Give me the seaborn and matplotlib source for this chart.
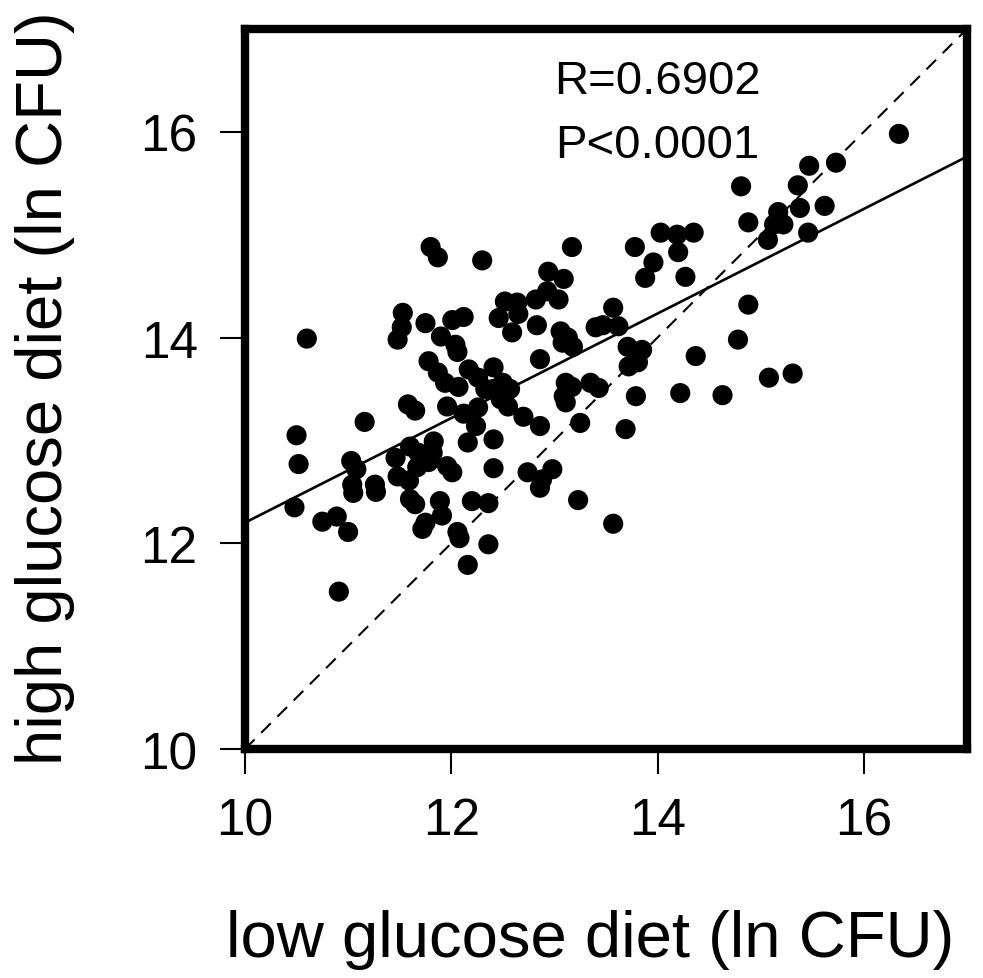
import numpy as np
import pandas as pd
import matplotlib
matplotlib.use("Agg")
import matplotlib.pyplot as plt
import seaborn as sns

low_glucose = [10.48, 10.50, 10.52, 10.60, 10.75, 10.89, 10.91, 11.00, 11.03, 11.08,
               11.04, 11.05, 11.16, 11.26, 11.27, 11.46, 11.48, 11.48, 11.52, 11.53,
               11.58, 11.65, 11.59, 11.60, 11.68, 11.67, 11.60, 11.65, 11.72, 11.75,
               11.75, 11.78, 11.80, 11.87, 11.83, 11.82, 11.78, 11.87, 11.90, 11.89,
               11.91, 11.94, 11.96, 11.96, 12.01, 12.01, 12.12, 12.04, 12.06, 12.07,
               12.06, 12.08, 12.12, 12.16, 12.17, 12.20, 12.16, 12.24, 12.26, 12.26,
               12.30, 12.33, 12.41, 12.41, 12.36, 12.36, 12.41, 12.41, 12.46, 12.48,
               12.50, 12.52, 12.55, 12.57, 12.59, 12.64, 12.65, 12.70, 12.74, 12.82,
               12.83, 12.86, 12.86, 12.86, 12.88, 12.93, 12.94, 12.98, 13.04, 13.06,
               13.08, 13.13, 13.18, 13.09, 13.09, 13.11, 13.11, 13.17, 13.17, 13.23,
               13.25, 13.35, 13.40, 13.43, 13.47, 13.57, 13.57, 13.62, 13.69, 13.71,
               13.72, 13.81, 13.85, 13.78, 13.79, 13.88, 13.96, 14.03, 14.19, 14.20,
               14.27, 14.22, 14.35, 14.37, 14.63, 14.78, 14.81, 14.88, 14.88, 15.07,
               15.08, 15.13, 15.17, 15.22, 15.31, 15.36, 15.38, 15.46, 15.47, 15.62,
               15.73, 16.34]
high_glucose = [12.35, 13.05, 12.77, 13.99, 12.21, 12.26, 11.53, 12.11, 12.80, 12.72,
                12.57, 12.49, 13.18, 12.57, 12.50, 12.83, 12.65, 13.98, 14.10, 14.24,
                13.35, 13.29, 12.61, 12.94, 12.88, 12.74, 12.43, 12.38, 12.14, 12.20,
                14.14, 13.77, 14.88, 14.78, 12.99, 12.88, 12.79, 13.66, 14.01, 12.41,
                12.27, 13.56, 13.33, 12.75, 12.69, 14.17, 14.20, 13.93, 13.86, 13.52,
                12.11, 12.05, 13.26, 12.98, 13.69, 12.41, 11.79, 13.14, 13.61, 13.32,
                14.75, 13.50, 13.71, 13.50, 11.99, 12.39, 13.01, 12.73, 14.19, 13.40,
                13.56, 14.35, 13.33, 13.50, 14.05, 14.34, 14.23, 13.23, 12.69, 14.37,
                14.12, 13.79, 13.14, 12.54, 12.62, 14.45, 14.64, 12.72, 14.37, 14.06,
                13.95, 14.00, 13.91, 14.57, 13.43, 13.37, 13.56, 14.88, 13.52, 12.42,
                13.17, 13.56, 14.10, 13.51, 14.12, 14.29, 12.19, 14.11, 13.11, 13.91,
                13.72, 13.76, 13.88, 14.88, 13.43, 14.58, 14.73, 15.02, 15.00, 14.83,
                14.59, 13.46, 15.02, 13.82, 13.44, 13.98, 15.47, 15.12, 14.32, 14.95,
                13.61, 15.10, 15.22, 15.10, 13.65, 15.48, 15.26, 15.02, 15.67, 15.28,
                15.70, 15.98]

x_ticks = [10, 12, 14, 16]
y_ticks = [10, 12, 14, 16]
stats_text = ["R=0.6902", "P<0.0001"]
x_label = "low glucose diet (ln CFU)"
y_label = "high glucose diet (ln CFU)"

df = pd.DataFrame({"low": low_glucose, "high": high_glucose})

sns.set_style("white")
plt.rcParams["font.family"] = ["Liberation Sans", "DejaVu Sans"]
plt.rcParams["text.color"] = "black"

fig = plt.figure(figsize=(9.83, 9.79), dpi=100)
ax = fig.add_axes([0.2492, 0.2339, 0.9837 - 0.2492, 0.9694 - 0.2339])
ax.set_xlim(10, 17)
ax.set_ylim(10, 17)

ax.plot([10, 17], [10, 17], ls=(0, (6.5, 4.5)), color="black", lw=1.5, zorder=1)
sns.regplot(data=df, x="low", y="high", scatter=False, ci=None, truncate=False,
            line_kws={"color": "black", "lw": 1.9, "zorder": 2}, ax=ax)
sns.scatterplot(data=df, x="low", y="high", s=210, color="black",
                edgecolor="none", linewidth=0, ax=ax, zorder=3)

ax.set_xlim(10, 17)
ax.set_ylim(10, 17)
ax.set_xticks(x_ticks)
ax.set_yticks(y_ticks)
ax.tick_params(axis="both", direction="out", length=18, width=1.5,
               labelsize=37, pad=16, colors="black", labelcolor="black",
               bottom=True, left=True)
for sp in ax.spines.values():
    sp.set_visible(True)
    sp.set_color("black")
    sp.set_linewidth(6)

ax.set_xlabel("")
ax.set_ylabel("")
fig.text(0.6, 1 - 940 / 979, x_label, fontsize=47, ha="center", va="center",
         color="black")
fig.text(0.046, 1 - 388 / 979, y_label, fontsize=47, ha="center", va="center",
         rotation=90, color="black")

ax.text(14.0, 16.49, stats_text[0], fontsize=34, ha="center", va="center",
        color="black")
ax.text(14.0, 15.87, stats_text[1], fontsize=34, ha="center", va="center",
        color="black")

fig.savefig("out.png", dpi=100, facecolor="white")
